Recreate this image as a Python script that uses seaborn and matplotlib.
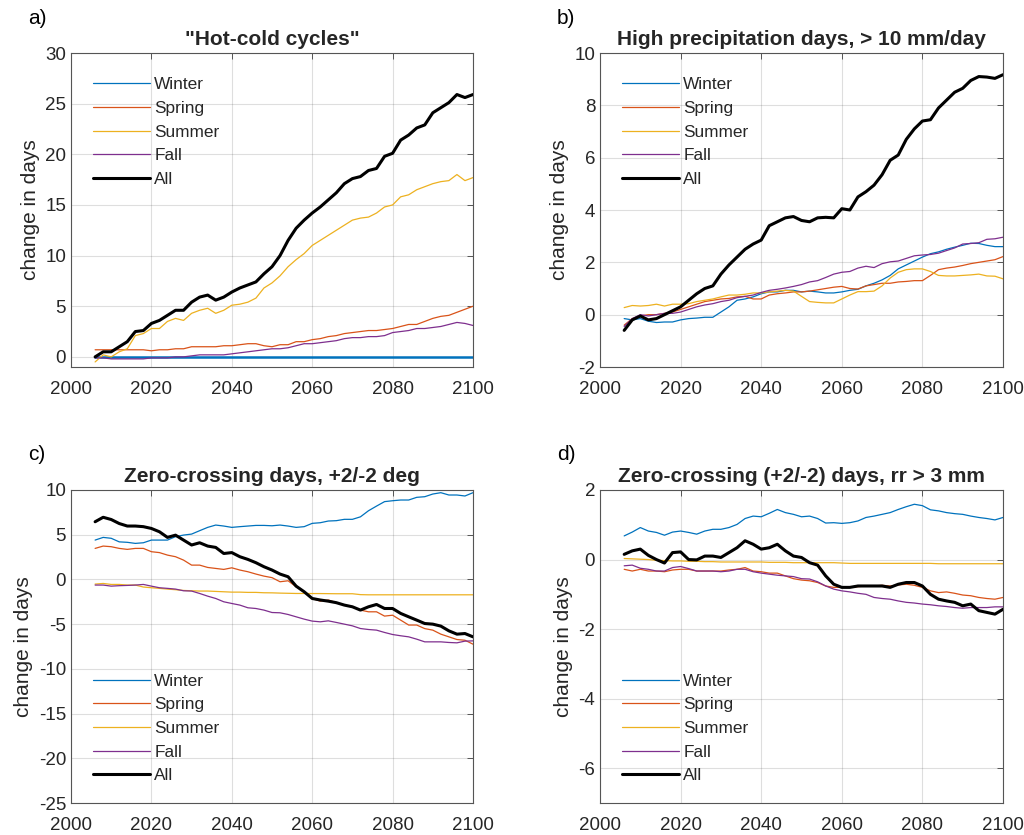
import numpy as np
import pandas as pd
import seaborn as sns
import matplotlib
matplotlib.use("Agg")
import matplotlib.pyplot as plt
from matplotlib.lines import Line2D

# ---------------- data (every 2 years 2006-2100) ----------------
years = list(range(2006, 2101, 2))
seasons = ["Winter", "Spring", "Summer", "Fall", "All"]

titles = ['"Hot-cold cycles"', "High precipitation days, > 10 mm/day",
          "Zero-crossing days, +2/-2 deg", "Zero-crossing (+2/-2) days, rr > 3 mm"]
panel_labels = ["a)", "b)", "c)", "d)"]
ylims = [(-1, 30), (-2, 10), (-25, 10), (-7, 2)]
yticks = [[0, 5, 10, 15, 20, 25, 30], [-2, 0, 2, 4, 6, 8, 10],
          [-25, -20, -15, -10, -5, 0, 5, 10], [-6, -4, -2, 0, 2]]
xticks = [2000, 2020, 2040, 2060, 2080, 2100]

winter_a = [0.0, 0.0, 0.0, 0.0, 0.0, 0.0, 0.0, 0.0, 0.0, 0.0, 0.0, 0.0,
            0.0, 0.0, 0.0, 0.0, 0.0, 0.0, 0.0, 0.0, 0.0, 0.0, 0.0, 0.0,
            0.0, 0.0, 0.0, 0.0, 0.0, 0.0, 0.0, 0.0, 0.0, 0.0, 0.0, 0.0,
            0.0, 0.0, 0.0, 0.0, 0.0, 0.0, 0.0, 0.0, 0.0, 0.0, 0.0, 0.0]
spring_a = [0.7, 0.7, 0.7, 0.7, 0.7, 0.7, 0.7, 0.6, 0.7, 0.7, 0.8, 0.8,
            1.0, 1.0, 1.0, 1.0, 1.1, 1.1, 1.2, 1.3, 1.3, 1.1, 1.0, 1.2,
            1.2, 1.5, 1.5, 1.7, 1.8, 2.0, 2.1, 2.3, 2.4, 2.5, 2.6, 2.6,
            2.7, 2.8, 3.0, 3.2, 3.2, 3.5, 3.8, 4.0, 4.1, 4.4, 4.7, 5.0]
summer_a = [-0.5, 0.2, 0.0, 0.5, 0.8, 2.1, 2.3, 2.8, 2.8, 3.5, 3.8, 3.6,
            4.3, 4.6, 4.8, 4.3, 4.6, 5.1, 5.2, 5.4, 5.8, 6.8, 7.3, 8.0,
            8.9, 9.6, 10.2, 11.0, 11.5, 12.0, 12.5, 13.0, 13.5, 13.7, 13.8, 14.2,
            14.8, 15.0, 15.8, 16.0, 16.5, 16.8, 17.1, 17.3, 17.4, 18.0, 17.4, 17.7]
fall_a = [-0.1, -0.1, -0.2, -0.2, -0.2, -0.2, -0.2, -0.1, -0.1, -0.1, 0.0, 0.0,
          0.1, 0.2, 0.2, 0.2, 0.2, 0.3, 0.4, 0.5, 0.6, 0.7, 0.8, 0.8,
          0.9, 1.1, 1.3, 1.3, 1.4, 1.5, 1.6, 1.8, 1.9, 1.9, 2.0, 2.0,
          2.1, 2.4, 2.5, 2.6, 2.8, 2.8, 2.9, 3.0, 3.2, 3.4, 3.3, 3.1]
all_a = [0.0, 0.5, 0.5, 1.0, 1.5, 2.5, 2.6, 3.3, 3.6, 4.1, 4.6, 4.6,
         5.4, 5.9, 6.1, 5.6, 5.9, 6.4, 6.8, 7.1, 7.4, 8.2, 8.9, 10.0,
         11.5, 12.7, 13.5, 14.2, 14.8, 15.5, 16.2, 17.1, 17.6, 17.8, 18.4, 18.6,
         19.8, 20.1, 21.4, 21.9, 22.6, 22.9, 24.1, 24.6, 25.1, 25.9, 25.6, 25.9]

winter_b = [-0.15, -0.2, -0.15, -0.25, -0.3, -0.28, -0.28, -0.2, -0.15, -0.13, -0.1, -0.1,
            0.1, 0.3, 0.55, 0.6, 0.68, 0.8, 0.87, 0.87, 0.93, 0.93, 0.87, 0.9,
            0.87, 0.83, 0.83, 0.87, 0.93, 0.97, 1.1, 1.2, 1.33, 1.5, 1.75, 1.9,
            2.05, 2.2, 2.33, 2.4, 2.5, 2.58, 2.65, 2.73, 2.72, 2.65, 2.6, 2.6]
spring_b = [-0.4, -0.15, -0.05, 0.0, 0.0, 0.05, 0.1, 0.2, 0.3, 0.4, 0.5, 0.55,
            0.6, 0.62, 0.68, 0.7, 0.6, 0.6, 0.75, 0.8, 0.83, 0.87, 0.87, 0.9,
            0.95, 1.0, 1.05, 1.08, 1.0, 0.98, 1.1, 1.15, 1.2, 1.2, 1.25, 1.27,
            1.3, 1.3, 1.5, 1.72, 1.78, 1.82, 1.88, 1.95, 2.0, 2.05, 2.1, 2.22]
summer_b = [0.27, 0.35, 0.33, 0.35, 0.4, 0.33, 0.4, 0.4, 0.42, 0.5, 0.55, 0.6,
            0.68, 0.75, 0.75, 0.78, 0.83, 0.83, 0.87, 0.9, 0.93, 0.9, 0.7, 0.5,
            0.47, 0.45, 0.45, 0.6, 0.75, 0.88, 0.88, 0.9, 1.1, 1.4, 1.62, 1.72,
            1.75, 1.75, 1.65, 1.5, 1.48, 1.48, 1.5, 1.52, 1.55, 1.48, 1.47, 1.37]
fall_b = [-0.45, -0.15, 0.0, -0.05, 0.0, 0.05, 0.05, 0.1, 0.2, 0.3, 0.37, 0.42,
          0.5, 0.55, 0.65, 0.7, 0.75, 0.85, 0.93, 0.97, 1.02, 1.08, 1.15, 1.25,
          1.3, 1.42, 1.55, 1.62, 1.65, 1.78, 1.85, 1.8, 1.95, 2.02, 2.05, 2.15,
          2.25, 2.28, 2.3, 2.35, 2.45, 2.55, 2.7, 2.72, 2.75, 2.88, 2.9, 2.96]
all_b = [-0.6, -0.2, -0.05, -0.2, -0.15, 0.0, 0.15, 0.3, 0.55, 0.8, 1.0, 1.1,
         1.55, 1.9, 2.2, 2.5, 2.7, 2.85, 3.4, 3.55, 3.7, 3.75, 3.6, 3.55,
         3.7, 3.72, 3.7, 4.05, 4.0, 4.5, 4.7, 4.95, 5.35, 5.9, 6.1, 6.7,
         7.1, 7.4, 7.45, 7.9, 8.2, 8.5, 8.65, 8.95, 9.1, 9.08, 9.03, 9.17]

winter_c = [4.4, 4.7, 4.6, 4.2, 4.15, 4.03, 4.1, 4.4, 4.4, 4.4, 4.78, 4.96,
            5.07, 5.45, 5.82, 6.08, 5.97, 5.82, 5.9, 5.97, 6.04, 6.04, 6.0, 6.08,
            5.97, 5.82, 5.9, 6.27, 6.34, 6.53, 6.57, 6.72, 6.72, 7.0, 7.68, 8.2,
            8.7, 8.8, 8.88, 8.88, 9.18, 9.25, 9.55, 9.7, 9.44, 9.44, 9.33, 9.7]
spring_c = [3.47, 3.73, 3.66, 3.47, 3.36, 3.47, 3.47, 3.1, 3.0, 2.72, 2.54, 2.16,
            1.6, 1.6, 1.34, 1.23, 1.12, 1.3, 1.05, 0.86, 0.6, 0.37, 0.2, -0.26,
            -0.15, -0.82, -1.38, -2.13, -2.43, -2.3, -2.6, -2.87, -3.06, -3.43, -3.62, -3.62,
            -4.1, -4.0, -4.55, -5.1, -5.1, -5.5, -5.67, -6.12, -6.42, -6.72, -6.8, -7.24]
summer_c = [-0.52, -0.45, -0.56, -0.56, -0.63, -0.63, -0.85, -0.93, -1.0, -1.08, -1.15, -1.23,
            -1.27, -1.3, -1.3, -1.34, -1.38, -1.42, -1.42, -1.45, -1.45, -1.49, -1.5, -1.53,
            -1.55, -1.57, -1.57, -1.58, -1.58, -1.59, -1.6, -1.6, -1.6, -1.7, -1.72, -1.72,
            -1.72, -1.72, -1.72, -1.72, -1.72, -1.72, -1.72, -1.72, -1.72, -1.72, -1.72, -1.72]
fall_c = [-0.63, -0.63, -0.75, -0.7, -0.67, -0.63, -0.56, -0.75, -0.93, -1.0, -1.08, -1.27,
          -1.3, -1.57, -1.87, -2.13, -2.5, -2.69, -2.87, -3.17, -3.25, -3.43, -3.7, -3.73,
          -3.92, -4.18, -4.44, -4.66, -4.74, -4.63, -4.81, -5.0, -5.19, -5.49, -5.6, -5.67,
          -5.93, -6.16, -6.3, -6.42, -6.68, -6.98, -6.98, -6.98, -7.05, -7.09, -6.9, -6.87]
all_c = [6.45, 6.95, 6.7, 6.25, 5.97, 5.97, 5.9, 5.7, 5.33, 4.7, 4.95, 4.4,
         3.85, 4.1, 3.73, 3.58, 2.9, 3.0, 2.54, 2.24, 1.87, 1.42, 1.05, 0.6,
         0.3, -0.75, -1.38, -2.13, -2.3, -2.43, -2.6, -2.87, -3.06, -3.43, -3.06, -2.8,
         -3.25, -3.25, -3.8, -4.18, -4.55, -4.93, -5.0, -5.22, -5.75, -6.12, -6.05, -6.42]

winter_d = [0.68, 0.79, 0.92, 0.82, 0.78, 0.7, 0.79, 0.82, 0.78, 0.73, 0.82, 0.87,
            0.87, 0.92, 1.01, 1.18, 1.25, 1.23, 1.33, 1.44, 1.35, 1.3, 1.23, 1.25,
            1.18, 1.05, 1.06, 1.04, 1.06, 1.11, 1.21, 1.25, 1.3, 1.35, 1.44, 1.52,
            1.59, 1.55, 1.43, 1.4, 1.35, 1.32, 1.3, 1.25, 1.21, 1.18, 1.14, 1.21]
spring_d = [-0.28, -0.33, -0.28, -0.33, -0.33, -0.35, -0.3, -0.28, -0.28, -0.33, -0.33, -0.33,
            -0.33, -0.3, -0.28, -0.23, -0.33, -0.35, -0.39, -0.39, -0.47, -0.55, -0.59, -0.61,
            -0.66, -0.76, -0.8, -0.8, -0.8, -0.78, -0.76, -0.76, -0.74, -0.76, -0.73, -0.71,
            -0.74, -0.8, -0.9, -0.95, -0.93, -0.97, -1.02, -1.04, -1.09, -1.12, -1.14, -1.09]
summer_d = [0.03, 0.02, 0.01, 0.0, -0.02, -0.03, -0.04, -0.04, -0.05, -0.05, -0.06, -0.06,
            -0.07, -0.07, -0.07, -0.07, -0.07, -0.07, -0.08, -0.08, -0.08, -0.09, -0.09, -0.09,
            -0.09, -0.09, -0.09, -0.1, -0.11, -0.11, -0.11, -0.11, -0.11, -0.11, -0.11, -0.11,
            -0.11, -0.11, -0.11, -0.12, -0.12, -0.12, -0.12, -0.12, -0.12, -0.12, -0.12, -0.12]
fall_d = [-0.18, -0.16, -0.25, -0.28, -0.33, -0.33, -0.23, -0.2, -0.26, -0.33, -0.33, -0.33,
          -0.35, -0.33, -0.28, -0.28, -0.35, -0.39, -0.42, -0.45, -0.47, -0.49, -0.55, -0.56,
          -0.64, -0.76, -0.85, -0.9, -0.93, -0.97, -1.0, -1.09, -1.12, -1.14, -1.19, -1.23,
          -1.25, -1.28, -1.3, -1.33, -1.35, -1.38, -1.4, -1.38, -1.38, -1.38, -1.36, -1.36]
all_d = [0.15, 0.25, 0.3, 0.12, 0.0, -0.1, 0.2, 0.22, 0.0, -0.01, 0.1, 0.1,
         0.06, 0.2, 0.34, 0.54, 0.44, 0.3, 0.34, 0.44, 0.25, 0.1, 0.06, -0.09,
         -0.16, -0.47, -0.71, -0.8, -0.8, -0.76, -0.76, -0.76, -0.76, -0.8, -0.71, -0.66,
         -0.66, -0.76, -1.0, -1.14, -1.19, -1.23, -1.33, -1.28, -1.47, -1.52, -1.57, -1.43]

panel_data = [
    [winter_a, spring_a, summer_a, fall_a, all_a],
    [winter_b, spring_b, summer_b, fall_b, all_b],
    [winter_c, spring_c, summer_c, fall_c, all_c],
    [winter_d, spring_d, summer_d, fall_d, all_d],
]

# ---------------- style ----------------
sns.set_style("white")
plt.rcParams["font.family"] = ["Liberation Sans", "DejaVu Sans"]
plt.rcParams["axes.unicode_minus"] = False

colors = {"Winter": "#0072BD", "Spring": "#D95319", "Summer": "#EDB120",
          "Fall": "#7E2F8E", "All": "#000000"}
widths = {"Winter": 0.9, "Spring": 0.9, "Summer": 0.9, "Fall": 0.9, "All": 2.2}

fig = plt.figure(figsize=(10.24, 8.35), dpi=100)
positions = [
    [71 / 1024, 1 - 367 / 835, 402 / 1024, 314 / 835],
    [600 / 1024, 1 - 367 / 835, 403 / 1024, 314 / 835],
    [71 / 1024, 1 - 803 / 835, 402 / 1024, 313 / 835],
    [600 / 1024, 1 - 803 / 835, 403 / 1024, 313 / 835],
]
label_pos = [(28 / 1024, 1 - 18 / 835), (557 / 1024, 1 - 18 / 835),
             (28 / 1024, 1 - 455 / 835), (557 / 1024, 1 - 455 / 835)]
legend_anchor = [(0.055, 0.923), (0.055, 0.923), (0.055, 0.413), (0.055, 0.413)]

axis_color = "#262626"
for i in range(4):
    ax = fig.add_axes(positions[i])
    df = pd.DataFrame({"year": years * 5,
                       "value": sum(panel_data[i], []),
                       "season": [s for s in seasons for _ in years]})
    for s in seasons:
        sub = df[df["season"] == s]
        lw = widths[s]
        if i == 0 and s == "Winter":
            lw = 1.8
        sns.lineplot(data=sub, x="year", y="value", ax=ax, color=colors[s],
                     linewidth=lw, legend=False, zorder=3 if s == "All" else 2)
    ax.set_xlim(2000, 2100)
    ax.set_ylim(*ylims[i])
    ax.set_xticks(xticks)
    ax.set_yticks(yticks[i])
    ax.set_xlabel("")
    ax.set_ylabel("change in days", fontsize=15, color=axis_color, labelpad=4)
    ax.set_title(titles[i], fontsize=15, fontweight="bold", pad=6)
    ax.grid(True, color="#262626", alpha=0.15, linewidth=0.8)
    ax.set_axisbelow(True)
    for sp in ax.spines.values():
        sp.set_visible(True)
        sp.set_color("#555555")
        sp.set_linewidth(0.8)
    ax.tick_params(axis="both", which="both", direction="in", length=4, width=0.7,
                   colors="#555555", labelcolor=axis_color, labelsize=13.5,
                   top=True, right=True)
    ax.tick_params(axis="x", pad=10)
    handles = [Line2D([], [], color=colors[s], linewidth=widths[s]) for s in seasons]
    ax.legend(handles, seasons, loc="upper left", bbox_to_anchor=legend_anchor[i],
              frameon=False, fontsize=12.4, handlelength=3.3, handletextpad=0.25,
              labelspacing=0.5, borderpad=0, borderaxespad=0)
    fig.text(label_pos[i][0], label_pos[i][1], panel_labels[i], fontsize=15,
             va="center", ha="left", color="#000000")

fig.savefig("out.png", dpi=100, facecolor="white")
